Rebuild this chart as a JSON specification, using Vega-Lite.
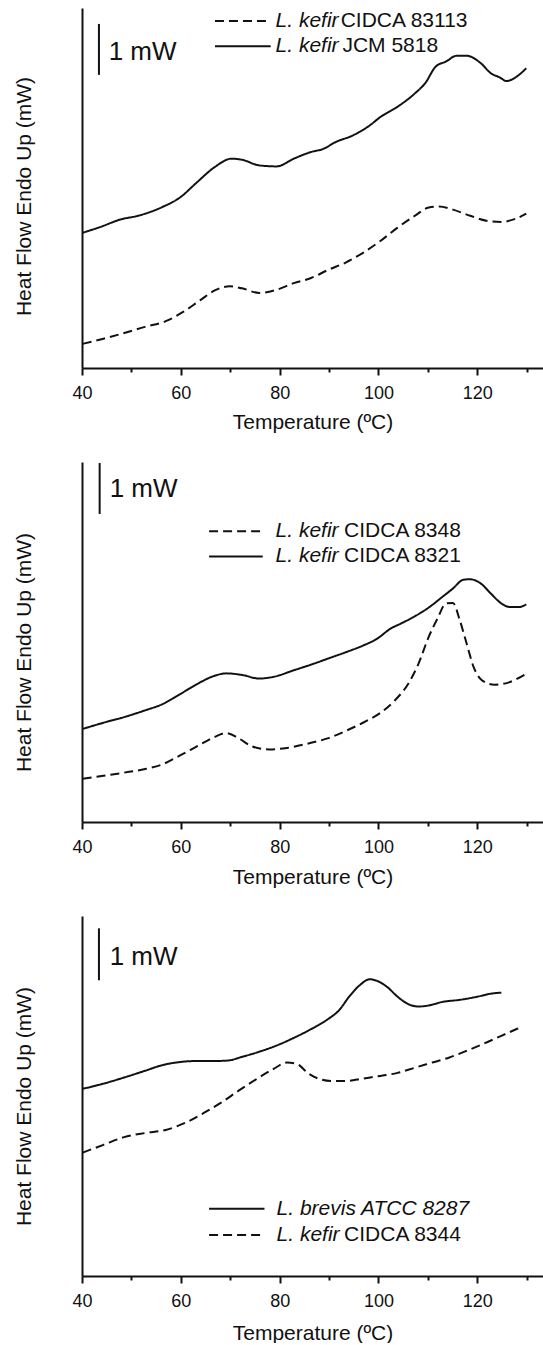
{
  "$schema": "https://vega.github.io/schema/vega-lite/v6.json",
  "padding": {"left": 13, "top": 8, "right": 0, "bottom": 0},
  "background": "white",
  "spacing": 94,
  "bounds": "flush",
  "config": {
    "font": "Liberation Sans",
    "view": {"stroke": null},
    "axis": {"grid": false, "domainColor": "#111", "domainWidth": 2, "tickColor": "#111", "tickWidth": 2, "labelColor": "#111", "titleColor": "#111", "titleFontWeight": "normal", "titleFontSize": 21, "labelFontSize": 18, "labelFont": "Liberation Sans", "titleFont": "Liberation Sans"},
    "text": {"color": "#111"},
    "rule": {"color": "#111", "strokeWidth": 2}
  },
  "datasets": {
    "p1": [
      {"T": 40.15, "hf": 2.63, "strain": "L. kefir JCM 5818"},
      {"T": 43.65, "hf": 2.74, "strain": "L. kefir JCM 5818"},
      {"T": 47.86, "hf": 2.89, "strain": "L. kefir JCM 5818"},
      {"T": 51.34, "hf": 2.96, "strain": "L. kefir JCM 5818"},
      {"T": 56.26, "hf": 3.13, "strain": "L. kefir JCM 5818"},
      {"T": 59.75, "hf": 3.31, "strain": "L. kefir JCM 5818"},
      {"T": 63.26, "hf": 3.61, "strain": "L. kefir JCM 5818"},
      {"T": 66.76, "hf": 3.9, "strain": "L. kefir JCM 5818"},
      {"T": 70.25, "hf": 4.07, "strain": "L. kefir JCM 5818"},
      {"T": 72.35, "hf": 4.05, "strain": "L. kefir JCM 5818"},
      {"T": 75.86, "hf": 3.94, "strain": "L. kefir JCM 5818"},
      {"T": 79.37, "hf": 3.92, "strain": "L. kefir JCM 5818"},
      {"T": 82.86, "hf": 4.07, "strain": "L. kefir JCM 5818"},
      {"T": 86.36, "hf": 4.2, "strain": "L. kefir JCM 5818"},
      {"T": 88.82, "hf": 4.26, "strain": "L. kefir JCM 5818"},
      {"T": 91.26, "hf": 4.39, "strain": "L. kefir JCM 5818"},
      {"T": 94.76, "hf": 4.52, "strain": "L. kefir JCM 5818"},
      {"T": 98.28, "hf": 4.72, "strain": "L. kefir JCM 5818"},
      {"T": 100.38, "hf": 4.88, "strain": "L. kefir JCM 5818"},
      {"T": 103.87, "hf": 5.08, "strain": "L. kefir JCM 5818"},
      {"T": 107.37, "hf": 5.34, "strain": "L. kefir JCM 5818"},
      {"T": 109.47, "hf": 5.54, "strain": "L. kefir JCM 5818"},
      {"T": 111.57, "hf": 5.86, "strain": "L. kefir JCM 5818"},
      {"T": 113.68, "hf": 5.96, "strain": "L. kefir JCM 5818"},
      {"T": 115.78, "hf": 6.07, "strain": "L. kefir JCM 5818"},
      {"T": 117.88, "hf": 6.07, "strain": "L. kefir JCM 5818"},
      {"T": 120.67, "hf": 5.93, "strain": "L. kefir JCM 5818"},
      {"T": 122.77, "hf": 5.73, "strain": "L. kefir JCM 5818"},
      {"T": 124.54, "hf": 5.65, "strain": "L. kefir JCM 5818"},
      {"T": 125.92, "hf": 5.58, "strain": "L. kefir JCM 5818"},
      {"T": 128.03, "hf": 5.67, "strain": "L. kefir JCM 5818"},
      {"T": 129.92, "hf": 5.83, "strain": "L. kefir JCM 5818"},
      {"T": 40.15, "hf": 0.47, "strain": "L. kefir CIDCA 83113"},
      {"T": 44.35, "hf": 0.57, "strain": "L. kefir CIDCA 83113"},
      {"T": 48.55, "hf": 0.68, "strain": "L. kefir CIDCA 83113"},
      {"T": 52.75, "hf": 0.8, "strain": "L. kefir CIDCA 83113"},
      {"T": 56.95, "hf": 0.91, "strain": "L. kefir CIDCA 83113"},
      {"T": 60.46, "hf": 1.09, "strain": "L. kefir CIDCA 83113"},
      {"T": 63.95, "hf": 1.32, "strain": "L. kefir CIDCA 83113"},
      {"T": 67.1, "hf": 1.52, "strain": "L. kefir CIDCA 83113"},
      {"T": 69.92, "hf": 1.59, "strain": "L. kefir CIDCA 83113"},
      {"T": 72.35, "hf": 1.55, "strain": "L. kefir CIDCA 83113"},
      {"T": 75.86, "hf": 1.46, "strain": "L. kefir CIDCA 83113"},
      {"T": 79.37, "hf": 1.52, "strain": "L. kefir CIDCA 83113"},
      {"T": 82.86, "hf": 1.65, "strain": "L. kefir CIDCA 83113"},
      {"T": 86.36, "hf": 1.75, "strain": "L. kefir CIDCA 83113"},
      {"T": 89.87, "hf": 1.91, "strain": "L. kefir CIDCA 83113"},
      {"T": 93.36, "hf": 2.05, "strain": "L. kefir CIDCA 83113"},
      {"T": 96.87, "hf": 2.24, "strain": "L. kefir CIDCA 83113"},
      {"T": 100.38, "hf": 2.47, "strain": "L. kefir CIDCA 83113"},
      {"T": 103.87, "hf": 2.73, "strain": "L. kefir CIDCA 83113"},
      {"T": 107.37, "hf": 2.96, "strain": "L. kefir CIDCA 83113"},
      {"T": 110.17, "hf": 3.12, "strain": "L. kefir CIDCA 83113"},
      {"T": 112.27, "hf": 3.14, "strain": "L. kefir CIDCA 83113"},
      {"T": 115.08, "hf": 3.08, "strain": "L. kefir CIDCA 83113"},
      {"T": 118.57, "hf": 2.96, "strain": "L. kefir CIDCA 83113"},
      {"T": 122.08, "hf": 2.86, "strain": "L. kefir CIDCA 83113"},
      {"T": 124.87, "hf": 2.84, "strain": "L. kefir CIDCA 83113"},
      {"T": 127.69, "hf": 2.9, "strain": "L. kefir CIDCA 83113"},
      {"T": 129.92, "hf": 3.0, "strain": "L. kefir CIDCA 83113"}
    ],
    "p2": [
      {"T": 40.14, "hf": 1.81, "strain": "L. kefir CIDCA 8321"},
      {"T": 44.34, "hf": 1.93, "strain": "L. kefir CIDCA 8321"},
      {"T": 48.54, "hf": 2.04, "strain": "L. kefir CIDCA 8321"},
      {"T": 52.75, "hf": 2.17, "strain": "L. kefir CIDCA 8321"},
      {"T": 56.25, "hf": 2.29, "strain": "L. kefir CIDCA 8321"},
      {"T": 59.75, "hf": 2.48, "strain": "L. kefir CIDCA 8321"},
      {"T": 63.25, "hf": 2.68, "strain": "L. kefir CIDCA 8321"},
      {"T": 66.75, "hf": 2.84, "strain": "L. kefir CIDCA 8321"},
      {"T": 69.2, "hf": 2.89, "strain": "L. kefir CIDCA 8321"},
      {"T": 72.35, "hf": 2.86, "strain": "L. kefir CIDCA 8321"},
      {"T": 75.85, "hf": 2.79, "strain": "L. kefir CIDCA 8321"},
      {"T": 78.66, "hf": 2.82, "strain": "L. kefir CIDCA 8321"},
      {"T": 82.86, "hf": 2.95, "strain": "L. kefir CIDCA 8321"},
      {"T": 86.36, "hf": 3.06, "strain": "L. kefir CIDCA 8321"},
      {"T": 89.86, "hf": 3.18, "strain": "L. kefir CIDCA 8321"},
      {"T": 93.36, "hf": 3.3, "strain": "L. kefir CIDCA 8321"},
      {"T": 96.86, "hf": 3.43, "strain": "L. kefir CIDCA 8321"},
      {"T": 99.66, "hf": 3.56, "strain": "L. kefir CIDCA 8321"},
      {"T": 102.46, "hf": 3.76, "strain": "L. kefir CIDCA 8321"},
      {"T": 104.57, "hf": 3.86, "strain": "L. kefir CIDCA 8321"},
      {"T": 107.37, "hf": 4.0, "strain": "L. kefir CIDCA 8321"},
      {"T": 110.17, "hf": 4.17, "strain": "L. kefir CIDCA 8321"},
      {"T": 112.97, "hf": 4.38, "strain": "L. kefir CIDCA 8321"},
      {"T": 115.07, "hf": 4.54, "strain": "L. kefir CIDCA 8321"},
      {"T": 117.17, "hf": 4.71, "strain": "L. kefir CIDCA 8321"},
      {"T": 118.57, "hf": 4.72, "strain": "L. kefir CIDCA 8321"},
      {"T": 120.67, "hf": 4.64, "strain": "L. kefir CIDCA 8321"},
      {"T": 122.77, "hf": 4.44, "strain": "L. kefir CIDCA 8321"},
      {"T": 124.87, "hf": 4.25, "strain": "L. kefir CIDCA 8321"},
      {"T": 126.62, "hf": 4.18, "strain": "L. kefir CIDCA 8321"},
      {"T": 128.38, "hf": 4.18, "strain": "L. kefir CIDCA 8321"},
      {"T": 129.92, "hf": 4.23, "strain": "L. kefir CIDCA 8321"},
      {"T": 40.14, "hf": 0.84, "strain": "L. kefir CIDCA 8348"},
      {"T": 44.34, "hf": 0.9, "strain": "L. kefir CIDCA 8348"},
      {"T": 48.54, "hf": 0.96, "strain": "L. kefir CIDCA 8348"},
      {"T": 52.75, "hf": 1.03, "strain": "L. kefir CIDCA 8348"},
      {"T": 56.25, "hf": 1.12, "strain": "L. kefir CIDCA 8348"},
      {"T": 59.75, "hf": 1.29, "strain": "L. kefir CIDCA 8348"},
      {"T": 63.25, "hf": 1.47, "strain": "L. kefir CIDCA 8348"},
      {"T": 66.75, "hf": 1.65, "strain": "L. kefir CIDCA 8348"},
      {"T": 69.2, "hf": 1.73, "strain": "L. kefir CIDCA 8348"},
      {"T": 71.65, "hf": 1.63, "strain": "L. kefir CIDCA 8348"},
      {"T": 74.45, "hf": 1.47, "strain": "L. kefir CIDCA 8348"},
      {"T": 77.96, "hf": 1.41, "strain": "L. kefir CIDCA 8348"},
      {"T": 81.46, "hf": 1.44, "strain": "L. kefir CIDCA 8348"},
      {"T": 86.36, "hf": 1.54, "strain": "L. kefir CIDCA 8348"},
      {"T": 89.86, "hf": 1.63, "strain": "L. kefir CIDCA 8348"},
      {"T": 93.36, "hf": 1.77, "strain": "L. kefir CIDCA 8348"},
      {"T": 96.86, "hf": 1.93, "strain": "L. kefir CIDCA 8348"},
      {"T": 100.36, "hf": 2.12, "strain": "L. kefir CIDCA 8348"},
      {"T": 103.17, "hf": 2.35, "strain": "L. kefir CIDCA 8348"},
      {"T": 105.97, "hf": 2.68, "strain": "L. kefir CIDCA 8348"},
      {"T": 108.07, "hf": 3.07, "strain": "L. kefir CIDCA 8348"},
      {"T": 110.17, "hf": 3.6, "strain": "L. kefir CIDCA 8348"},
      {"T": 111.92, "hf": 3.95, "strain": "L. kefir CIDCA 8348"},
      {"T": 113.67, "hf": 4.25, "strain": "L. kefir CIDCA 8348"},
      {"T": 115.07, "hf": 4.26, "strain": "L. kefir CIDCA 8348"},
      {"T": 116.47, "hf": 3.92, "strain": "L. kefir CIDCA 8348"},
      {"T": 117.87, "hf": 3.46, "strain": "L. kefir CIDCA 8348"},
      {"T": 119.27, "hf": 3.01, "strain": "L. kefir CIDCA 8348"},
      {"T": 121.02, "hf": 2.75, "strain": "L. kefir CIDCA 8348"},
      {"T": 123.47, "hf": 2.67, "strain": "L. kefir CIDCA 8348"},
      {"T": 126.27, "hf": 2.71, "strain": "L. kefir CIDCA 8348"},
      {"T": 128.38, "hf": 2.8, "strain": "L. kefir CIDCA 8348"},
      {"T": 129.92, "hf": 2.88, "strain": "L. kefir CIDCA 8348"}
    ],
    "p3": [
      {"T": 40.14, "hf": 3.64, "strain": "L. brevis ATCC 8287"},
      {"T": 44.34, "hf": 3.74, "strain": "L. brevis ATCC 8287"},
      {"T": 48.54, "hf": 3.86, "strain": "L. brevis ATCC 8287"},
      {"T": 52.75, "hf": 3.99, "strain": "L. brevis ATCC 8287"},
      {"T": 56.25, "hf": 4.1, "strain": "L. brevis ATCC 8287"},
      {"T": 59.75, "hf": 4.16, "strain": "L. brevis ATCC 8287"},
      {"T": 63.25, "hf": 4.18, "strain": "L. brevis ATCC 8287"},
      {"T": 66.75, "hf": 4.18, "strain": "L. brevis ATCC 8287"},
      {"T": 69.55, "hf": 4.19, "strain": "L. brevis ATCC 8287"},
      {"T": 72.35, "hf": 4.26, "strain": "L. brevis ATCC 8287"},
      {"T": 75.85, "hf": 4.36, "strain": "L. brevis ATCC 8287"},
      {"T": 79.36, "hf": 4.48, "strain": "L. brevis ATCC 8287"},
      {"T": 82.86, "hf": 4.63, "strain": "L. brevis ATCC 8287"},
      {"T": 86.36, "hf": 4.8, "strain": "L. brevis ATCC 8287"},
      {"T": 89.86, "hf": 5.0, "strain": "L. brevis ATCC 8287"},
      {"T": 91.96, "hf": 5.16, "strain": "L. brevis ATCC 8287"},
      {"T": 94.06, "hf": 5.43, "strain": "L. brevis ATCC 8287"},
      {"T": 96.16, "hf": 5.65, "strain": "L. brevis ATCC 8287"},
      {"T": 98.26, "hf": 5.77, "strain": "L. brevis ATCC 8287"},
      {"T": 99.66, "hf": 5.74, "strain": "L. brevis ATCC 8287"},
      {"T": 101.76, "hf": 5.62, "strain": "L. brevis ATCC 8287"},
      {"T": 103.87, "hf": 5.43, "strain": "L. brevis ATCC 8287"},
      {"T": 105.97, "hf": 5.29, "strain": "L. brevis ATCC 8287"},
      {"T": 108.07, "hf": 5.24, "strain": "L. brevis ATCC 8287"},
      {"T": 110.17, "hf": 5.26, "strain": "L. brevis ATCC 8287"},
      {"T": 112.97, "hf": 5.33, "strain": "L. brevis ATCC 8287"},
      {"T": 116.47, "hf": 5.37, "strain": "L. brevis ATCC 8287"},
      {"T": 119.97, "hf": 5.43, "strain": "L. brevis ATCC 8287"},
      {"T": 122.77, "hf": 5.49, "strain": "L. brevis ATCC 8287"},
      {"T": 124.87, "hf": 5.51, "strain": "L. brevis ATCC 8287"},
      {"T": 40.14, "hf": 2.4, "strain": "L. kefir CIDCA 8344"},
      {"T": 44.34, "hf": 2.55, "strain": "L. kefir CIDCA 8344"},
      {"T": 48.54, "hf": 2.7, "strain": "L. kefir CIDCA 8344"},
      {"T": 52.75, "hf": 2.78, "strain": "L. kefir CIDCA 8344"},
      {"T": 56.95, "hf": 2.84, "strain": "L. kefir CIDCA 8344"},
      {"T": 61.15, "hf": 2.99, "strain": "L. kefir CIDCA 8344"},
      {"T": 64.65, "hf": 3.17, "strain": "L. kefir CIDCA 8344"},
      {"T": 68.15, "hf": 3.37, "strain": "L. kefir CIDCA 8344"},
      {"T": 71.65, "hf": 3.6, "strain": "L. kefir CIDCA 8344"},
      {"T": 75.15, "hf": 3.82, "strain": "L. kefir CIDCA 8344"},
      {"T": 78.66, "hf": 4.02, "strain": "L. kefir CIDCA 8344"},
      {"T": 81.46, "hf": 4.15, "strain": "L. kefir CIDCA 8344"},
      {"T": 83.56, "hf": 4.12, "strain": "L. kefir CIDCA 8344"},
      {"T": 85.66, "hf": 3.95, "strain": "L. kefir CIDCA 8344"},
      {"T": 87.76, "hf": 3.84, "strain": "L. kefir CIDCA 8344"},
      {"T": 90.56, "hf": 3.79, "strain": "L. kefir CIDCA 8344"},
      {"T": 93.36, "hf": 3.79, "strain": "L. kefir CIDCA 8344"},
      {"T": 96.86, "hf": 3.84, "strain": "L. kefir CIDCA 8344"},
      {"T": 100.36, "hf": 3.89, "strain": "L. kefir CIDCA 8344"},
      {"T": 103.87, "hf": 3.95, "strain": "L. kefir CIDCA 8344"},
      {"T": 107.37, "hf": 4.05, "strain": "L. kefir CIDCA 8344"},
      {"T": 110.87, "hf": 4.15, "strain": "L. kefir CIDCA 8344"},
      {"T": 114.37, "hf": 4.25, "strain": "L. kefir CIDCA 8344"},
      {"T": 117.87, "hf": 4.38, "strain": "L. kefir CIDCA 8344"},
      {"T": 121.37, "hf": 4.52, "strain": "L. kefir CIDCA 8344"},
      {"T": 124.87, "hf": 4.67, "strain": "L. kefir CIDCA 8344"},
      {"T": 128.38, "hf": 4.82, "strain": "L. kefir CIDCA 8344"}
    ]
  },
  "vconcat": [
    {
      "width": 461, "height": 360,
      "layer": [
        {
          "data": {"name": "p1"},
          "mark": {"type": "line", "interpolate": "monotone", "strokeWidth": 2, "color": "#111"},
          "encoding": {
            "x": {"field": "T", "type": "quantitative", "scale": {"domain": [40, 133.3], "nice": false, "zero": false},
                  "axis": {"title": "Temperature  (ºC)", "values": [40, 50, 60, 70, 80, 90, 100, 110, 120, 130], "labelExpr": "datum.value % 20 == 0 ? datum.label : ''", "tickSize": {"condition": {"test": "datum.value % 20 == 0", "value": 7}, "value": 4}, "labelPadding": 9, "titlePadding": 9, "labelFlush": false, "labelOverlap": false}},
            "y": {"field": "hf", "type": "quantitative", "scale": {"domain": [0, 7], "nice": false, "zero": false},
                  "axis": {"title": "Heat Flow Endo Up (mW)", "ticks": false, "labels": false, "titlePadding": 48, "titleY": 188}},
            "strokeDash": {"field": "strain", "type": "nominal", "legend": null,
                  "scale": {"domain": ["L. kefir JCM 5818", "L. kefir CIDCA 83113", "L. kefir CIDCA 8321", "L. kefir CIDCA 8348", "L. brevis ATCC 8287", "L. kefir CIDCA 8344"], "range": [[1, 0], [9, 5], [1, 0], [9, 5], [1, 0], [9, 5]]}}
          }
        },
        {"data": {"values": [{}]}, "mark": {"type": "rule"}, "encoding": {"x": {"datum": 43.43}, "y": {"datum": 5.7}, "y2": {"datum": 6.69}}},
        {"data": {"values": [{}]}, "mark": {"type": "text", "text": "1 mW", "fontSize": 26, "align": "left", "baseline": "middle"}, "encoding": {"x": {"datum": 45.4}, "y": {"datum": 6.14}}},
        {"data": {"values": [{}]}, "mark": {"type": "rule", "strokeDash": [9, 5]}, "encoding": {"x": {"datum": 66.91}, "x2": {"datum": 77.98}, "y": {"datum": 6.745}}},
        {"data": {"values": [{}]}, "mark": {"type": "rule"}, "encoding": {"x": {"datum": 66.91}, "x2": {"datum": 78.19}, "y": {"datum": 6.255}}},
        {"data": {"values": [{}]}, "mark": {"type": "text", "text": "L. kefir", "fontStyle": "italic", "fontSize": 21, "align": "left", "baseline": "middle"}, "encoding": {"x": {"datum": 79.17}, "y": {"datum": 6.745}}},
        {"data": {"values": [{}]}, "mark": {"type": "text", "text": "CIDCA 83113", "fontSize": 21, "align": "left", "baseline": "middle"}, "encoding": {"x": {"datum": 92.35}, "y": {"datum": 6.745}}},
        {"data": {"values": [{}]}, "mark": {"type": "text", "text": "L. kefir", "fontStyle": "italic", "fontSize": 21, "align": "left", "baseline": "middle"}, "encoding": {"x": {"datum": 79.17}, "y": {"datum": 6.255}}},
        {"data": {"values": [{}]}, "mark": {"type": "text", "text": "JCM 5818", "fontSize": 21, "align": "left", "baseline": "middle"}, "encoding": {"x": {"datum": 92.7}, "y": {"datum": 6.255}}}
      ]
    },
    {
      "width": 461, "height": 360,
      "layer": [
        {
          "data": {"name": "p2"},
          "mark": {"type": "line", "interpolate": "monotone", "strokeWidth": 2, "color": "#111"},
          "encoding": {
            "x": {"field": "T", "type": "quantitative", "scale": {"domain": [40, 133.3], "nice": false, "zero": false},
                  "axis": {"title": "Temperature (ºC)", "values": [40, 50, 60, 70, 80, 90, 100, 110, 120, 130], "labelExpr": "datum.value % 20 == 0 ? datum.label : ''", "tickSize": {"condition": {"test": "datum.value % 20 == 0", "value": 7}, "value": 4}, "labelPadding": 9, "titlePadding": 10, "labelFlush": false, "labelOverlap": false}},
            "y": {"field": "hf", "type": "quantitative", "scale": {"domain": [0, 7], "nice": false, "zero": false},
                  "axis": {"title": "Heat Flow Endo Up (mW)", "ticks": false, "labels": false, "titlePadding": 48, "titleY": 190}},
            "strokeDash": {"field": "strain", "type": "nominal", "legend": null}
          }
        },
        {"data": {"values": [{}]}, "mark": {"type": "rule"}, "encoding": {"x": {"datum": 43.57}, "y": {"datum": 5.99}, "y2": {"datum": 6.98}}},
        {"data": {"values": [{}]}, "mark": {"type": "text", "text": "1 mW", "fontSize": 26, "align": "left", "baseline": "middle"}, "encoding": {"x": {"datum": 45.6}, "y": {"datum": 6.48}}},
        {"data": {"values": [{}]}, "mark": {"type": "rule", "strokeDash": [9, 5]}, "encoding": {"x": {"datum": 65.72}, "x2": {"datum": 76.58}, "y": {"datum": 5.654}}},
        {"data": {"values": [{}]}, "mark": {"type": "rule"}, "encoding": {"x": {"datum": 65.72}, "x2": {"datum": 76.58}, "y": {"datum": 5.163}}},
        {"data": {"values": [{}]}, "mark": {"type": "text", "text": "L. kefir", "fontStyle": "italic", "fontSize": 21, "align": "left", "baseline": "middle"}, "encoding": {"x": {"datum": 79.17}, "y": {"datum": 5.654}}},
        {"data": {"values": [{}]}, "mark": {"type": "text", "text": "CIDCA 8348", "fontSize": 21, "align": "left", "baseline": "middle"}, "encoding": {"x": {"datum": 93.05}, "y": {"datum": 5.654}}},
        {"data": {"values": [{}]}, "mark": {"type": "text", "text": "L. kefir", "fontStyle": "italic", "fontSize": 21, "align": "left", "baseline": "middle"}, "encoding": {"x": {"datum": 79.17}, "y": {"datum": 5.163}}},
        {"data": {"values": [{}]}, "mark": {"type": "text", "text": "CIDCA 8321", "fontSize": 21, "align": "left", "baseline": "middle"}, "encoding": {"x": {"datum": 93.05}, "y": {"datum": 5.163}}}
      ]
    },
    {
      "width": 461, "height": 360,
      "layer": [
        {
          "data": {"name": "p3"},
          "mark": {"type": "line", "interpolate": "monotone", "strokeWidth": 2, "color": "#111"},
          "encoding": {
            "x": {"field": "T", "type": "quantitative", "scale": {"domain": [40, 133.3], "nice": false, "zero": false},
                  "axis": {"title": "Temperature (ºC)", "values": [40, 50, 60, 70, 80, 90, 100, 110, 120, 130], "labelExpr": "datum.value % 20 == 0 ? datum.label : ''", "tickSize": {"condition": {"test": "datum.value % 20 == 0", "value": 7}, "value": 4}, "labelPadding": 9, "titlePadding": 12, "labelFlush": false, "labelOverlap": false}},
            "y": {"field": "hf", "type": "quantitative", "scale": {"domain": [0, 7], "nice": false, "zero": false},
                  "axis": {"title": "Heat Flow Endo Up (mW)", "ticks": false, "labels": false, "titlePadding": 48, "titleY": 190}},
            "strokeDash": {"field": "strain", "type": "nominal", "legend": null}
          }
        },
        {"data": {"values": [{}]}, "mark": {"type": "rule"}, "encoding": {"x": {"datum": 43.43}, "y": {"datum": 5.75}, "y2": {"datum": 6.76}}},
        {"data": {"values": [{}]}, "mark": {"type": "text", "text": "1 mW", "fontSize": 26, "align": "left", "baseline": "middle"}, "encoding": {"x": {"datum": 45.6}, "y": {"datum": 6.2}}},
        {"data": {"values": [{}]}, "mark": {"type": "rule"}, "encoding": {"x": {"datum": 65.72}, "x2": {"datum": 76.93}, "y": {"datum": 1.307}}},
        {"data": {"values": [{}]}, "mark": {"type": "rule", "strokeDash": [9, 5]}, "encoding": {"x": {"datum": 65.72}, "x2": {"datum": 76.93}, "y": {"datum": 0.797}}},
        {"data": {"values": [{}]}, "mark": {"type": "text", "text": "L. brevis ATCC 8287", "fontStyle": "italic", "fontSize": 21, "align": "left", "baseline": "middle"}, "encoding": {"x": {"datum": 79.38}, "y": {"datum": 1.307}}},
        {"data": {"values": [{}]}, "mark": {"type": "text", "text": "L. kefir", "fontStyle": "italic", "fontSize": 21, "align": "left", "baseline": "middle"}, "encoding": {"x": {"datum": 79.38}, "y": {"datum": 0.797}}},
        {"data": {"values": [{}]}, "mark": {"type": "text", "text": "CIDCA 8344", "fontSize": 21, "align": "left", "baseline": "middle"}, "encoding": {"x": {"datum": 93.05}, "y": {"datum": 0.797}}}
      ]
    }
  ]
}
